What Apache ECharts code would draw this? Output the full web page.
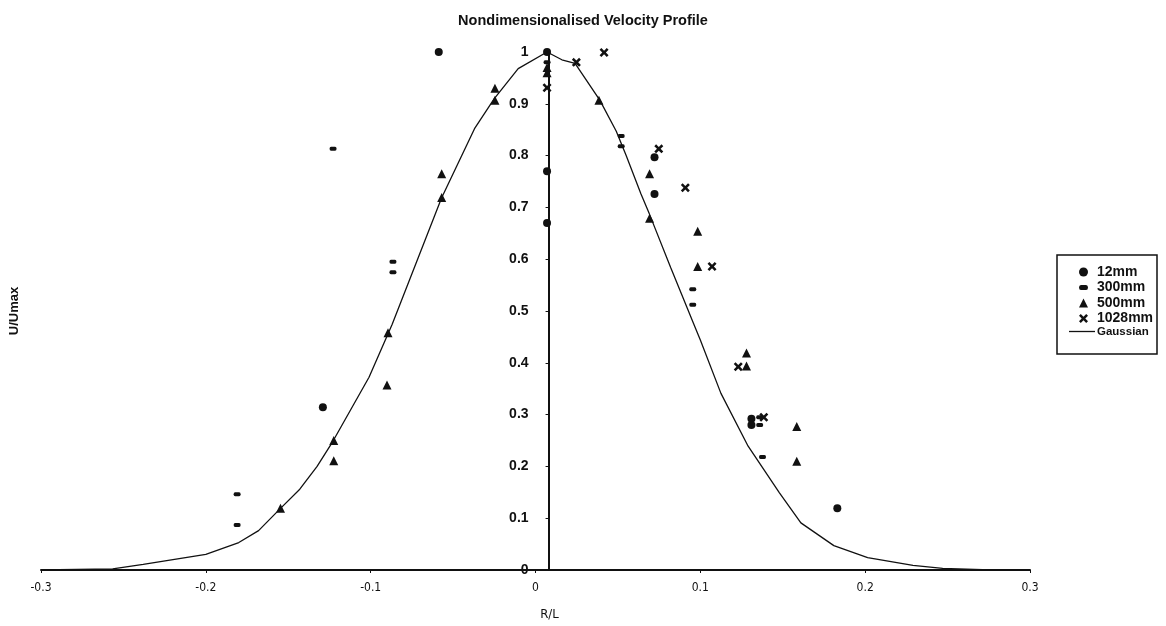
<!DOCTYPE html>
<html>
<head>
<meta charset="utf-8">
<script src="https://cdn.jsdelivr.net/npm/echarts@6/dist/echarts.min.js"></script>
<style>html,body{margin:0;padding:0;background:#fff;}#c{width:1166px;height:626px;}</style>
</head>
<body>
<div id="c"></div>
<script>
// ---- data ----
const title = 'Nondimensionalised Velocity Profile';
const xName = 'R/L';
const yName = 'U/Umax';
const seriesNames = ['12mm', '300mm', '500mm', '1028mm', 'Gaussian'];

const s12mm = [[-0.0587,1.0],[0.007,1.0],[0.007,0.77],[0.007,0.67],[-0.129,0.314],
  [0.0722,0.797],[0.0722,0.726],[0.1831,0.119],[0.131,0.292],[0.131,0.28]];
const s300mm = [[-0.181,0.146],[-0.181,0.087],[-0.1228,0.813],[-0.0865,0.595],[-0.0865,0.575],
  [0.052,0.838],[0.052,0.818],[0.0954,0.542],[0.0954,0.512],[0.136,0.295],[0.136,0.28],
  [0.1377,0.218],[0.007,0.98]];
const s500mm = [[-0.0246,0.93],[-0.0246,0.907],[-0.0569,0.765],[-0.0569,0.719],[-0.0895,0.458],
  [-0.0901,0.357],[-0.1224,0.25],[-0.1224,0.211],[-0.1547,0.119],[0.007,0.97],[0.007,0.96],
  [0.0385,0.907],[0.0692,0.765],[0.0692,0.679],[0.0984,0.654],[0.0984,0.586],[0.128,0.419],
  [0.128,0.394],[0.1585,0.277],[0.1585,0.21]];
const s1028mm = [[0.0248,0.98],[0.0416,0.999],[0.007,0.931],[0.0748,0.813],[0.0909,0.738],
  [0.1071,0.586],[0.123,0.3925],[0.1385,0.295]];
const gaussian = [[-0.3,0],[-0.2565,0.002],[-0.238,0.011],[-0.2,0.03],[-0.18,0.053],[-0.168,0.076],
  [-0.155,0.118],[-0.143,0.156],[-0.1325,0.2],[-0.123,0.248],[-0.101,0.372],[-0.087,0.474],
  [-0.057,0.718],[-0.037,0.852],[-0.025,0.91],[-0.0105,0.968],[0.007,1.0],[0.016,0.985],
  [0.024,0.978],[0.039,0.907],[0.049,0.847],[0.055,0.80],[0.064,0.726],[0.069,0.688],
  [0.082,0.584],[0.096,0.475],[0.1,0.444],[0.1125,0.341],[0.129,0.239],[0.148,0.149],
  [0.161,0.091],[0.181,0.047],[0.2015,0.024],[0.229,0.009],[0.247,0.003],[0.276,0],[0.3,0]];

const xMin = -0.3, xMax = 0.3, xStep = 0.1;
const yMin = 0, yMax = 1, yStep = 0.1;
const yCross = 0.007; // value of R/L where the vertical axis crosses

// ---- chart ----
const gridLeft = 38, gridRight = 136, gridTop = 52, gridBottom = 52;
const plotW = 1166 - gridLeft - gridRight;
const yAxisOffset = -plotW * (yCross - xMin) / (xMax - xMin);
const crossPath = 'path://M0,2 L2,0 L5,3 L8,0 L10,2 L7,5 L10,8 L8,10 L5,7 L2,10 L0,8 L3,5 Z';
const dashPath = 'path://M1.5,0 L5.5,0 Q7,0 7,2 Q7,4 5.5,4 L1.5,4 Q0,4 0,2 Q0,0 1.5,0 Z';
const lineIcon = 'path://M0,0 L26,0 L26,1.3 L0,1.3 Z';
const bold = {fontFamily: 'Liberation Sans, Arial, sans-serif', fontWeight: 'bold', color: '#111'};
const narrow = {fontFamily: '"Liberation Sans Narrow", "Arial Narrow", "DejaVu Sans Condensed", sans-serif', color: '#111'};
const black = {color: '#111', opacity: 1};

const chart = echarts.init(document.getElementById('c'));
chart.setOption({
  animation: false,
  backgroundColor: '#fff',
  title: {text: title, left: 'center', top: 8,
    textStyle: Object.assign({fontSize: 14.5}, bold)},
  grid: {left: gridLeft, right: gridRight, top: gridTop, bottom: gridBottom},
  graphic: [{type: 'rect', shape: {x: 1057, y: 255, width: 100, height: 99},
    style: {fill: 'none', stroke: '#111', lineWidth: 1.5}, z: 10}],
  legend: [{
    orient: 'vertical', left: 1079, top: 265, padding: 0,
    itemGap: 1.5, itemWidth: 9, itemHeight: 9,
    textStyle: Object.assign({fontSize: 14, lineHeight: 13, padding: [0, 0, 0, 4]}, bold),
    data: [seriesNames[0], {name: seriesNames[1], icon: dashPath}, seriesNames[2], seriesNames[3]]
  }, {
    orient: 'vertical', left: 1069, top: 325, padding: 0,
    itemWidth: 26, itemHeight: 8,
    textStyle: Object.assign({fontSize: 11.5, lineHeight: 13, padding: [0, 0, 0, -3]}, bold),
    data: [{name: seriesNames[4], icon: lineIcon}]
  }],
  xAxis: {
    type: 'value', min: xMin, max: xMax, interval: xStep,
    name: xName, nameLocation: 'middle', nameGap: 38,
    nameTextStyle: Object.assign({fontSize: 13, padding: [0, 0, 0, 28]}, narrow),
    splitLine: {show: false},
    axisLine: {onZero: false, lineStyle: {color: '#111', width: 2}},
    axisTick: {show: true, length: 3, lineStyle: {color: '#111'}},
    axisLabel: Object.assign({margin: 12, fontSize: 12}, narrow)
  },
  yAxis: [{
    type: 'value', min: yMin, max: yMax, interval: yStep,
    position: 'left', offset: yAxisOffset,
    splitLine: {show: false},
    axisLine: {show: true, onZero: false, lineStyle: {color: '#111', width: 2}},
    axisTick: {show: true, length: 3, lineStyle: {color: '#111'}},
    axisLabel: Object.assign({margin: 20, fontSize: 14}, bold)
  }, {
    type: 'value', min: yMin, max: yMax, interval: yStep, position: 'left', offset: 0,
    name: yName, nameLocation: 'middle', nameGap: 20,
    nameTextStyle: Object.assign({fontSize: 13}, bold),
    splitLine: {show: false}, axisLine: {show: false, onZero: false}, axisTick: {show: false}, axisLabel: {show: false}
  }],
  series: [
    {name: seriesNames[0], type: 'scatter', data: s12mm, symbol: 'circle', symbolSize: 8,
      itemStyle: black, clip: false},
    {name: seriesNames[1], type: 'scatter', data: s300mm, symbol: dashPath, symbolSize: 7,
      symbolKeepAspect: true, itemStyle: black, clip: false},
    {name: seriesNames[2], type: 'scatter', data: s500mm, symbol: 'triangle', symbolSize: 9,
      itemStyle: black, clip: false},
    {name: seriesNames[3], type: 'scatter', data: s1028mm, symbol: crossPath, symbolSize: 9,
      itemStyle: black, clip: false},
    {name: seriesNames[4], type: 'line', data: gaussian, showSymbol: false, symbol: 'none',
      lineStyle: {color: '#111', width: 1.3}, itemStyle: {color: '#111'}}
  ]
});
</script>
</body>
</html>
